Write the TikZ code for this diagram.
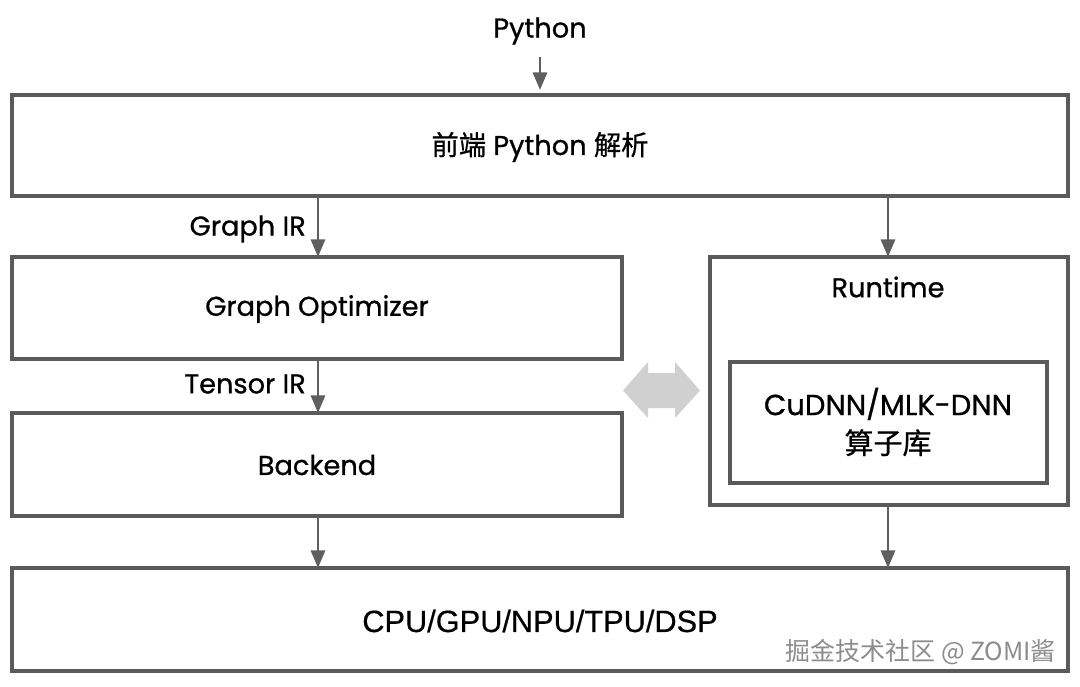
\documentclass[tikz,border=0pt]{standalone}
\usepackage{fontspec}
\setmainfont{Poppins}[FakeBold=0.8]
\newfontfamily\cjk{Noto Sans CJK SC}[FakeBold=0.8]
\newfontfamily\cjkplain{Noto Sans CJK SC}
\newfontfamily\hv{Liberation Sans}[FakeBold=0.5]
\usetikzlibrary{arrows.meta,shadows}
\definecolor{bordercol}{HTML}{5A5A5A}
\definecolor{arrowcol}{HTML}{5F5F5F}
\definecolor{dblcol}{HTML}{D0D0D0}
\tikzset{
  box/.style={draw=bordercol, line width=2.6pt, fill=white, drop shadow={shadow xshift=0.6pt, shadow yshift=-1.2pt, fill=black!25, opacity=0.6}},
  flow/.style={draw=arrowcol, line width=1.6pt, -{Triangle[length=10pt,width=8pt]}},
  lbl/.style={font=\fontsize{15.5}{18}\selectfont},
}
\begin{document}
\begin{tikzpicture}[x=0.02cm,y=-0.02cm]
\useasboundingbox (0,0) rectangle (1080,687);
% boxes
\path[box] (12,95) rectangle (1068,196);
\node[lbl] (front) at (540,147) {{\cjk 前端} Python {\cjk 解析}};
\coordinate (frontL) at (318,196);
\coordinate (frontR) at (888,196);

\path[box] (12,257) rectangle (622,359);
\node[lbl] (gopt) at (317,309) {Graph Optimizer};
\coordinate (goptT) at (318,257);
\coordinate (goptB) at (318,359);

\path[box] (12,413) rectangle (622,516);
\node[lbl] (back) at (317,465) {Backend};
\coordinate (backT) at (318,413);
\coordinate (backB) at (318,516);

\path[box] (710,257) rectangle (1068,505);
\node[lbl] (rt) at (888,287) {Runtime};
\coordinate (rtT) at (888,257);
\coordinate (rtB) at (888,505);

\path[box] (730,362) rectangle (1047,483);
\node[font=\fontsize{16.5}{19}\selectfont, align=center] (lib) at (888,422) {CuDNN/MLK-DNN\\[3pt]{\cjk 算子库}};

\path[box] (12,568) rectangle (1068,671);
\node[font=\hv\fontsize{17.5}{20}\selectfont] (hw) at (540,621) {CPU/GPU/NPU/TPU/DSP};
\coordinate (hwL) at (318,568);
\coordinate (hwR) at (888,568);

% top input
\node[lbl] (py) at (540,31) {Python};
\coordinate (pyE) at (540,90);
\coordinate (pyS) at (540,57);
\draw[flow] (pyS) -- (pyE);

% connectors
\draw[flow] (frontL) -- (goptT);
\draw[flow] (frontR) -- (rtT);
\draw[flow] (goptB) -- (backT);
\draw[flow] (backB) -- (hwL);
\draw[flow] (rtB) -- (hwR);

\node[lbl, anchor=east] (gir) at (312,229) {Graph IR};
\node[lbl, anchor=east] (tir) at (312,384) {Tensor IR};

% double arrow
\fill[dblcol] (623,390.5) -- (648,362) -- (648,373) -- (675,373) -- (675,362) -- (700,390.5) -- (675,418) -- (675,408) -- (648,408) -- (648,418) -- cycle;

% watermark
\node[font=\cjkplain\fontsize{14.2}{16}\selectfont, text=black!45, anchor=east] (wm) at (1062,652) {掘金技术社区 @ ZOMI酱};
\end{tikzpicture}
\end{document}
